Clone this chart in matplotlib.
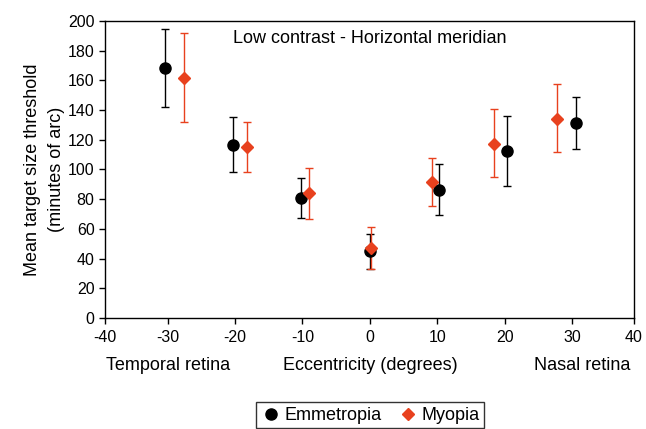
import numpy as np
import matplotlib.pyplot as plt
import matplotlib.transforms as mtransforms

plt.rcParams["font.family"] = ["Liberation Sans", "DejaVu Sans"]

# === Data ===
emm_x = [-30.4, -20.3, -10.2, 0.0, 10.3, 20.4, 30.6]
emm_y = [168.5, 116.3, 81.0, 45.2, 86.4, 112.5, 131.1]
emm_hi = [194.6, 135.1, 94.4, 56.6, 103.6, 136.2, 148.5]
emm_lo = [142.0, 98.0, 67.6, 32.7, 69.1, 88.8, 113.9]

myo_x = [-27.6, -18.2, -9.05, 0.1, 9.15, 18.35, 27.7]
myo_y = [161.7, 115.4, 84.1, 47.2, 91.3, 117.2, 134.2]
myo_hi = [192.0, 131.7, 100.9, 61.3, 107.6, 140.9, 157.5]
myo_lo = [132.0, 98.2, 66.7, 32.7, 75.2, 94.8, 111.9]

x_ticklabels = ["-40", "-30", "-20", "-10", "0", "10", "20", "30", "40"]
y_ticks = [0, 20, 40, 60, 80, 100, 120, 140, 160, 180, 200]

red = "#E8411E"

# === Plot ===
fig = plt.figure(figsize=(6.46, 4.29), dpi=100)
ax = fig.add_axes([0.1625, 0.259, 0.819, 0.692])

emm_y = np.array(emm_y)
myo_y = np.array(myo_y)
emm_err = [emm_y - np.array(emm_lo), np.array(emm_hi) - emm_y]
myo_err = [myo_y - np.array(myo_lo), np.array(myo_hi) - myo_y]

eb1 = ax.errorbar(emm_x, emm_y, yerr=emm_err, fmt="o", color="black", ms=8,
                  ecolor="black", elinewidth=1, capsize=3, capthick=1, zorder=3)
eb2 = ax.errorbar(myo_x, myo_y, yerr=myo_err, fmt="D", color=red, ms=6.5,
                  ecolor=red, elinewidth=1, capsize=3, capthick=1, zorder=3)

xmin, xmax = -39.3, 39.2
ax.set_xlim(xmin, xmax)
ax.set_ylim(0, 200)
ax.set_xticks([xmin, -30, -20, -10, 0, 10, 20, 30, xmax])
ax.set_xticklabels(x_ticklabels)
ax.set_yticks(y_ticks)
ax.tick_params(axis="both", direction="out", length=4, width=1, labelsize=11.5, colors="black")
ax.tick_params(axis="x", pad=5)
for s in ax.spines.values():
    s.set_linewidth(1)

ax.set_ylabel("Mean target size threshold\n(minutes of arc)", fontsize=13, labelpad=2,
              linespacing=1.55)
ax.text(0.5, 0.94, "Low contrast - Horizontal meridian", transform=ax.transAxes,
        ha="center", va="center", fontsize=13)

trans = mtransforms.blended_transform_factory(ax.transData, ax.transAxes)
ax.text(-30, -0.16, "Temporal retina", transform=trans, ha="center", va="center", fontsize=13)
ax.text(0, -0.16, "Eccentricity (degrees)", transform=trans, ha="center", va="center", fontsize=13)
ax.text(31.5, -0.16, "Nasal retina", transform=trans, ha="center", va="center", fontsize=13)

leg = fig.legend(handles=[eb1[0], eb2[0]], labels=["Emmetropia", "Myopia"],
                 loc="upper center", bbox_to_anchor=(0.573, 0.062), ncol=2, fontsize=13,
                 frameon=True, fancybox=False, edgecolor="black", handletextpad=0.2,
                 columnspacing=0.9, handlelength=1.1, borderpad=0.25, borderaxespad=0)
leg.get_frame().set_linewidth(1)

fig.savefig("out.png", dpi=100)
